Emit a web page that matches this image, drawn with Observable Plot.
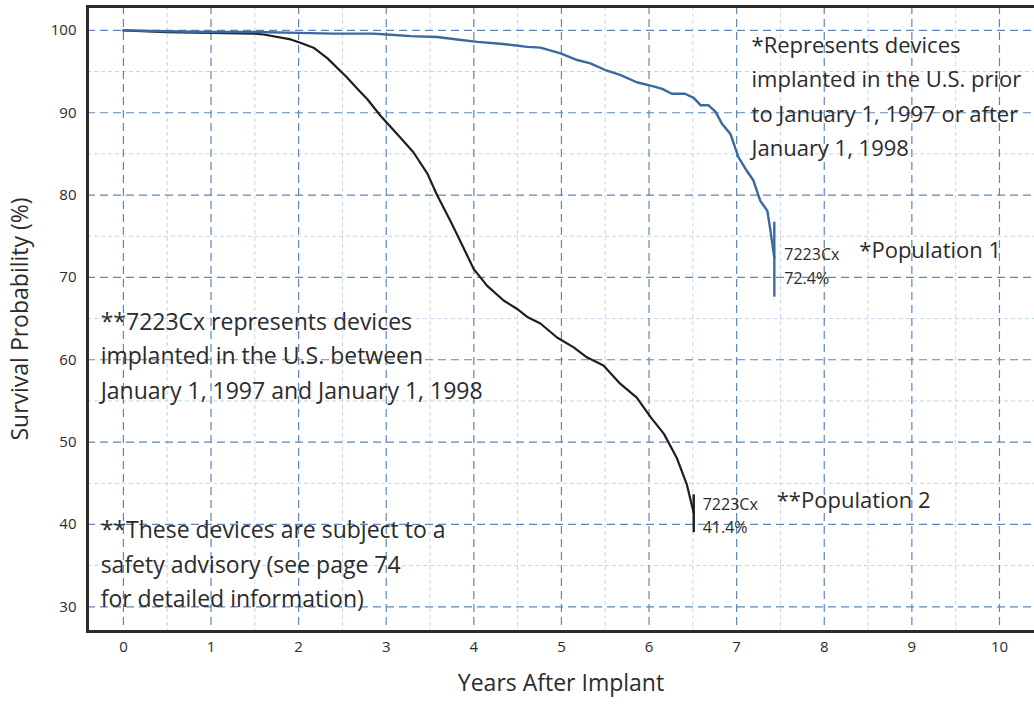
<!DOCTYPE html>
<html>
<head>
<meta charset="utf-8">
<script src="https://cdn.jsdelivr.net/npm/d3@7"></script>
<script src="https://cdn.jsdelivr.net/npm/@observablehq/plot@0.6"></script>
<style>
  html, body { margin: 0; padding: 0; background: #fff; }
  #chart svg { display: block; }
</style>
</head>
<body>
<div id="chart"></div>
<script>
// Population 1 (blue) — devices implanted before 1997 or after 1998
const pop1Years = [0, 0.5, 1.0, 1.5, 2.0, 2.4, 2.85, 3.01, 3.28, 3.58, 3.81, 4.04, 4.27, 4.46, 4.61, 4.76, 4.99, 5.18, 5.33, 5.52, 5.67, 5.86, 6.05, 6.15, 6.26, 6.41, 6.51, 6.59, 6.68, 6.76, 6.83, 6.93, 7.02, 7.10, 7.19, 7.27, 7.35, 7.38, 7.43];
const pop1Survival = [100, 99.9, 99.8, 99.8, 99.7, 99.6, 99.6, 99.5, 99.3, 99.2, 98.9, 98.6, 98.4, 98.2, 98.0, 97.9, 97.2, 96.4, 96.0, 95.1, 94.6, 93.7, 93.2, 92.9, 92.3, 92.3, 91.8, 90.9, 90.9, 90.1, 88.7, 87.4, 84.6, 83.2, 81.8, 79.3, 78.1, 76.1, 72.4];

// Population 2 (black) — 7223Cx implanted 1997–1998
const pop2Years = [0, 0.5, 1.0, 1.5, 1.6, 1.91, 2.02, 2.17, 2.33, 2.55, 2.67, 2.78, 2.93, 3.16, 3.31, 3.47, 3.58, 3.73, 3.85, 4.0, 4.15, 4.34, 4.49, 4.61, 4.76, 4.95, 5.14, 5.29, 5.48, 5.67, 5.86, 6.02, 6.17, 6.32, 6.43, 6.51];
const pop2Survival = [100, 99.8, 99.7, 99.6, 99.5, 98.9, 98.5, 97.9, 96.6, 94.3, 92.9, 91.7, 89.7, 87.0, 85.2, 82.6, 80.0, 76.9, 74.3, 71.0, 69.0, 67.2, 66.2, 65.2, 64.4, 62.7, 61.5, 60.3, 59.3, 57.1, 55.4, 53.0, 51.0, 48.0, 44.9, 41.4];

// End markers (final estimate with bar)
const endYears = [7.43, 6.51];
const endValues = [72.4, 41.4];
const endLow = [67.6, 39.0];
const endHigh = [76.7, 43.6];
const endLabels = ["7223Cx\n72.4%", "7223Cx\n41.4%"];
const popLabels = ["*Population 1", "**Population 2"];

// Axis ticks and grid
const xTicks = [0, 1, 2, 3, 4, 5, 6, 7, 8, 9, 10];
const xMinor = [0.5, 1.5, 2.5, 3.5, 4.5, 5.5, 6.5, 7.5, 8.5, 9.5];
const yTicks = [30, 40, 50, 60, 70, 80, 90, 100];
const yMinor = [35, 45, 55, 65, 75, 85, 95];

// Notes
const notes = [
  "*Represents devices\nimplanted in the U.S. prior\nto January 1, 1997 or after\nJanuary 1, 1998",
  "**7223Cx represents devices\nimplanted in the U.S. between\nJanuary 1, 1997 and January 1, 1998",
  "**These devices are subject to a\nsafety advisory (see page 74\nfor detailed information)"
];
const noteX = [7.17, -0.26, -0.26];
const noteY = [92.35, 60.8, 35.5];

const pop1 = pop1Years.map((t, i) => ({t, v: pop1Survival[i]}));
const pop2 = pop2Years.map((t, i) => ({t, v: pop2Survival[i]}));
const ends = endYears.map((t, i) => ({t, v: endValues[i], lo: endLow[i], hi: endHigh[i], lab: endLabels[i], pop: popLabels[i]}));
const noteData = notes.map((s, i) => ({s, x: noteX[i], y: noteY[i]}));

const FONT = "'Open Sans', Lato, sans-serif";
const TXT = "#2b2b2b";
const lineColor = ["#3b68a1", "#1e1e1e"];

const chart = Plot.plot({
  width: 1034,
  height: 709,
  marginLeft: 87,
  marginRight: 0,
  marginTop: 6,
  marginBottom: 78,
  style: {fontFamily: FONT, color: TXT, background: "#fff"},
  x: {domain: [-0.41, 10.4], label: null},
  y: {domain: [27, 102.9], label: null},
  marks: [
    // minor grid
    Plot.ruleX(xMinor, {stroke: "#c5d5e8", strokeWidth: 1, strokeDasharray: "4,3"}),
    Plot.ruleY(yMinor, {stroke: "#c5d5e8", strokeWidth: 1, strokeDasharray: "4,3"}),
    // major grid
    Plot.ruleX(xTicks, {stroke: "#5f86b6", strokeWidth: 1.2, strokeDasharray: "8,5"}),
    Plot.ruleY(yTicks, {stroke: "#5f86b6", strokeWidth: 1.2, strokeDasharray: "8,5"}),
    // axes
    Plot.axisX(xTicks, {tickSize: 0, tickPadding: 10, fontSize: 15, label: null, tickFormat: d => String(d)}),
    Plot.axisY(yTicks, {tickSize: 0, tickPadding: 11, fontSize: 15, label: null, tickFormat: d => String(d)}),
    // frame
    Plot.frame({anchor: "left", stroke: "#2b2b2b", strokeWidth: 3}),
    Plot.frame({anchor: "top", stroke: "#2b2b2b", strokeWidth: 3}),
    Plot.frame({anchor: "bottom", stroke: "#2b2b2b", strokeWidth: 3}),
    // curves
    Plot.line(pop2, {x: "t", y: "v", stroke: lineColor[1], strokeWidth: 2.2}),
    Plot.line(pop1, {x: "t", y: "v", stroke: lineColor[0], strokeWidth: 2.4}),
    // end bars
    Plot.ruleX(ends, {x: "t", y1: "lo", y2: "hi", stroke: (d, i) => lineColor[i], strokeWidth: 2.4}),
    // end labels
    Plot.text([ends[0]], {x: "t", y: "v", text: "lab", textAnchor: "start", dx: 10, dy: 7, fontSize: 16, lineHeight: 1.45, fill: TXT}),
    Plot.text([ends[1]], {x: "t", y: "v", text: "lab", textAnchor: "start", dx: 9, dy: 1, fontSize: 16, lineHeight: 1.45, fill: TXT}),
    Plot.text([ends[0]], {x: "t", y: "v", text: "pop", textAnchor: "start", dx: 85, dy: -7, fontSize: 22, fill: TXT}),
    Plot.text([ends[1]], {x: "t", y: "v", text: "pop", textAnchor: "start", dx: 83, dy: -12, fontSize: 22, fill: TXT}),
    // notes
    Plot.text(noteData.slice(0, 1), {x: "x", y: "y", text: "s", textAnchor: "start", lineAnchor: "middle", fontSize: 22, lineHeight: 1.56, fill: TXT}),
    Plot.text(noteData.slice(1), {x: "x", y: "y", text: "s", textAnchor: "start", lineAnchor: "middle", fontSize: 23, lineHeight: 1.5, fill: TXT}),
    // axis titles
    Plot.text(["Years After Implant"], {frameAnchor: "bottom", dy: 59, fontSize: 23, fill: TXT}),
    Plot.text(["Survival Probability (%)"], {frameAnchor: "left", textAnchor: "middle", dx: -67, rotate: -90, fontSize: 23, fill: TXT})
  ]
});
document.getElementById("chart").appendChild(chart);
</script>
</body>
</html>
